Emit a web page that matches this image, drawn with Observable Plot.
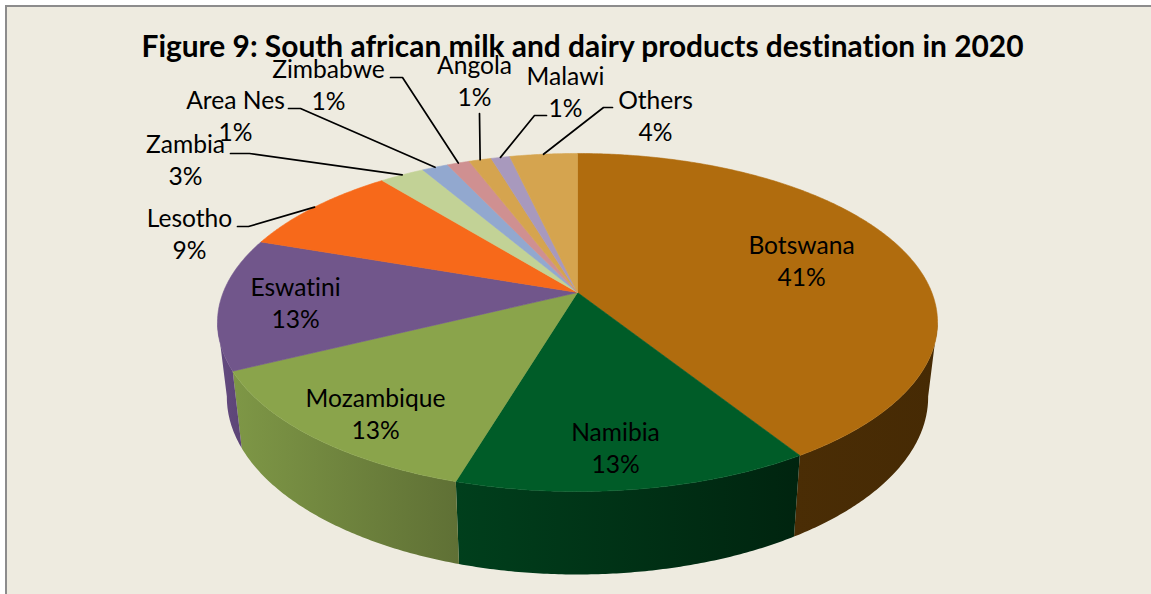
<!DOCTYPE html>
<html>
<head>
<meta charset="utf-8">
<script src="https://cdn.jsdelivr.net/npm/d3@7"></script>
<script src="https://cdn.jsdelivr.net/npm/@observablehq/plot@0.6"></script>
<style>
html,body{margin:0;padding:0;background:#fff;overflow:hidden}
#chart{position:relative;width:1151px;height:594px}
#chart::before{content:"";position:absolute;left:5px;top:5px;right:0;bottom:0;background:#eeebe0;border-left:2px solid #8c8c8c;border-top:2px solid #8c8c8c}
#chart svg{position:relative;display:block;background:transparent;font-variant-ligatures:none}
#chart svg text{font-variant-ligatures:none}
</style>
</head>
<body>
<div id="chart"></div>
<script>
// ---- data, clockwise from twelve o'clock ----
const titleText = "Figure 9: South african milk and dairy products destination in 2020";
const names = ["Botswana","Namibia","Mozambique","Eswatini","Lesotho","Zambia","Area Nes","Zimbabwe","Angola","Malawi","Others"];
const shares = [41.05,13.55,13.1,12.6,8.9,2.4,1.4,1.2,1.2,1.0,3.6];
const shareLabels = ["41%","13%","13%","13%","9%","3%","1%","1%","1%","1%","4%"];

// ---- styling and layout ----
const topColors = ["#b06c0e","#005c28","#8aa44b","#71568b","#f7691a","#c2d296","#92a8cf","#cf9091","#d5a44f","#a899bd","#d5a44f"];
const sideFills = {Botswana:"url(#sideBotswana)",Namibia:"url(#sideNamibia)",Mozambique:"url(#sideMozambique)",Eswatini:"url(#sideEswatini)"};
const sideStops = {
  sideBotswana:["#4a2d05","#462a04"],
  sideNamibia:["#003f1c","#00240f"],
  sideMozambique:["#7e9746","#5f7035"],
  sideEswatini:["#644b80","#5c4476"]
};
const labelX = [801,615,375,295,189,185,235,328,474,565,655];
const labelY = [259,446,412,301,232,158,114,83,79,90,114];
const leaderPaths = { // label end, elbow; the pie end comes from the slice itself
  Lesotho:[[237,226],[248,226]],
  Zambia:[[230,153],[249,153]],
  "Area Nes":[[288,108],[300,108]],
  Zimbabwe:[[390,77],[402,77]],
  Angola:[[479,113]],
  Malawi:[[546,115],[534,115]],
  Others:[[612,107],[603,107]]
};

// ---- tilted-disc projection ----
const cx = 577, cy = 292, persp = 0.1775, ax = 354.3, ay = 163.7;
const rimScaleX = 0.974, rimScaleY = 1.05, rimY = 365;
const visibleFrom = 0.278, visibleTo = 0.722;
function disc(f){
  const t = 2*Math.PI*f, d = 1+persp*Math.cos(t);
  return [cx+ax*Math.sin(t)/d, cy-ay*Math.cos(t)/d];
}
function rim(f){
  const [x,y] = disc(f);
  return [cx+rimScaleX*(x-cx), rimY+rimScaleY*(y-cy)];
}
function arc(f0,f1,fn){
  const n = Math.max(2,Math.ceil(Math.abs(f1-f0)*720)), out = [];
  for(let i=0;i<=n;i++) out.push(fn(f0+(f1-f0)*i/n));
  return out;
}

const total = d3.sum(shares);
let acc = 0;
const slices = names.map((name,i)=>{
  const f0 = acc/total; acc += shares[i];
  return {name,i,f0,f1:acc/total,color:topColors[i]};
});

const faceMarks = slices.map(s=>{
  const pts = [[cx,cy],...arc(s.f0,s.f1,disc),[cx,cy]];
  return Plot.line(pts,{x:d=>d[0],y:d=>d[1],fill:s.color,stroke:s.color,strokeWidth:0.6,curve:"linear"});
});
const sideMarks = slices.filter(s=>s.f1>visibleFrom && s.f0<visibleTo).map(s=>{
  const a = Math.max(s.f0,visibleFrom), b = Math.min(s.f1,visibleTo);
  const pts = [...arc(a,b,disc),...arc(b,a,rim)];
  pts.push(pts[0]);
  return Plot.line(pts,{x:d=>d[0],y:d=>d[1],fill:sideFills[s.name],stroke:"none",curve:"linear"});
});
const leaderMarks = slices.filter(s=>leaderPaths[s.name]).map(s=>{
  const pts = [...leaderPaths[s.name],disc((s.f0+s.f1)/2)];
  return Plot.line(pts,{x:d=>d[0],y:d=>d[1],stroke:"#000",strokeWidth:1.7,curve:"linear"});
});

function gradients(){
  const defs = d3.create("svg:defs");
  for(const [id,[c0,c1]] of Object.entries(sideStops)){
    const g = defs.append("linearGradient").attr("id",id).attr("x1","0%").attr("x2","100%").attr("y1","0%").attr("y2","0%");
    g.append("stop").attr("offset","0%").attr("stop-color",c0);
    g.append("stop").attr("offset","100%").attr("stop-color",c1);
  }
  return defs.node();
}

const labelFont = "Lato, 'Noto Sans', sans-serif";
const chart = Plot.plot({
  width:1151,height:594,margin:0,
  x:{domain:[0,1151],range:[0,1151],axis:null},
  y:{domain:[0,594],range:[0,594],axis:null},
  marks:[
    gradients,
    ...sideMarks,
    ...faceMarks,
    ...leaderMarks,
    Plot.text(names,{
      x:(d,i)=>labelX[i],y:(d,i)=>labelY[i],
      text:(d,i)=>d+"\n"+shareLabels[i],
      fontFamily:labelFont,fontSize:24.6,lineHeight:1.29,fill:"#000",textAnchor:"middle",lineAnchor:"middle"
    }),
    Plot.text([titleText],{
      x:()=>582,y:()=>47,text:d=>d,
      fontFamily:labelFont,fontWeight:700,fontSize:29.9,fill:"#000",textAnchor:"middle",lineAnchor:"middle"
    })
  ]
});
document.getElementById("chart").appendChild(chart);
</script>
</body>
</html>
